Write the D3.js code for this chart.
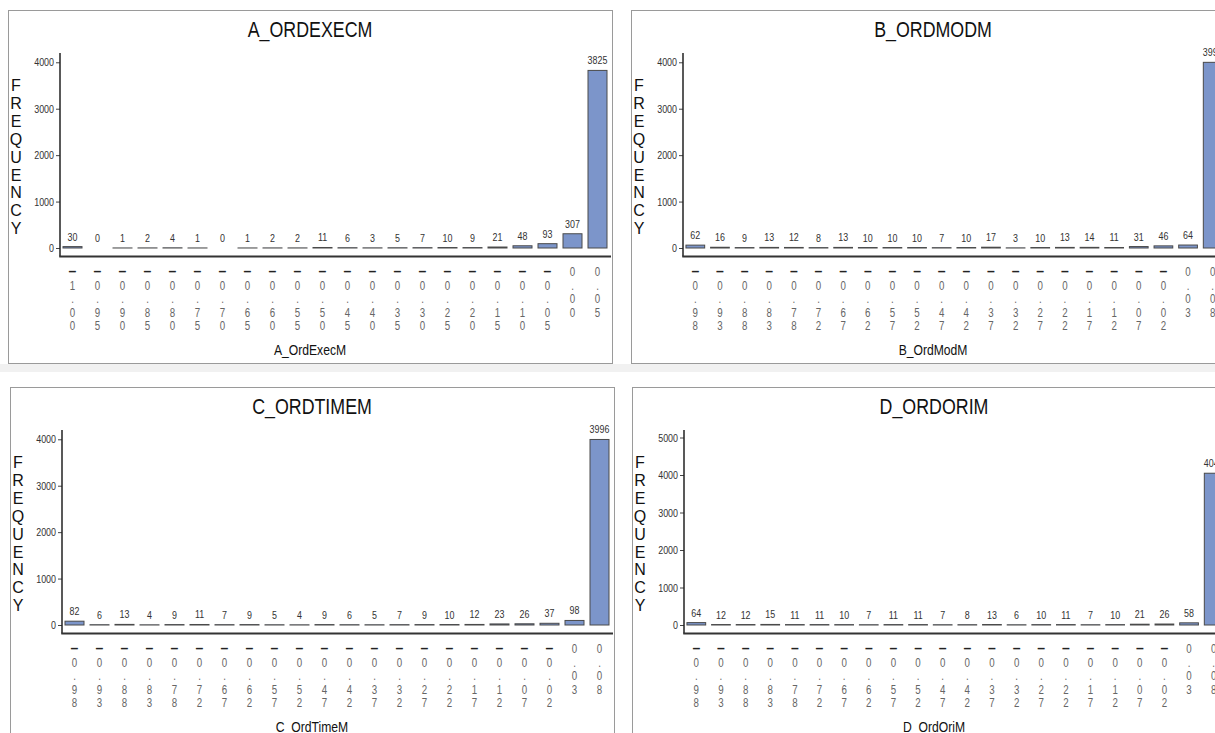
<!DOCTYPE html>
<html>
<head>
<meta charset="utf-8">
<script src="https://cdn.jsdelivr.net/npm/d3@7"></script>
<style>
  html, body { margin: 0; padding: 0; background: #fff; overflow: hidden; }
  svg { display: block; }
  text { font-family: "Liberation Sans", Arial, sans-serif; }
</style>
</head>
<body>
<svg id="chart" width="1215" height="733"></svg>
<script>
// Histogram categories (class midpoints) and counts per variable
const categoriesA = ["-1.00","-0.95","-0.90","-0.85","-0.80","-0.75","-0.70","-0.65","-0.60","-0.55","-0.50",
                     "-0.45","-0.40","-0.35","-0.30","-0.25","-0.20","-0.15","-0.10","-0.05","0.00","0.05"];
const categoriesBCD = ["-0.98","-0.93","-0.88","-0.83","-0.78","-0.72","-0.67","-0.62","-0.57","-0.52","-0.47",
                       "-0.42","-0.37","-0.32","-0.27","-0.22","-0.17","-0.12","-0.07","-0.02","0.03","0.08"];

const valuesA = [30, 0, 1, 2, 4, 1, 0, 1, 2, 2, 11, 6, 3, 5, 7, 10, 9, 21, 48, 93, 307, 3825];
const valuesB = [62, 16, 9, 13, 12, 8, 13, 10, 10, 10, 7, 10, 17, 3, 10, 13, 14, 11, 31, 46, 64, 3999];
const valuesC = [82, 6, 13, 4, 9, 11, 7, 9, 5, 4, 9, 6, 5, 7, 9, 10, 12, 23, 26, 37, 98, 3996];
const valuesD = [64, 12, 12, 15, 11, 11, 10, 7, 11, 11, 7, 8, 13, 6, 10, 11, 7, 10, 21, 26, 58, 4047];

const yTicks4000 = [0, 1000, 2000, 3000, 4000];
const yTicks5000 = [0, 1000, 2000, 3000, 4000, 5000];

const titles = ["A_ORDEXECM", "B_ORDMODM", "C_ORDTIMEM", "D_ORDORIM"];
const xTitles = ["A_OrdExecM", "B_OrdModM", "C_OrdTimeM", "D_OrdOriM"];
const yLabel = "FREQUENCY";

const panels = [
  { title: titles[0], xTitle: xTitles[0], cats: categoriesA,   vals: valuesA, ticks: yTicks4000, yMax: 4200, x: 8,   y: 10,  right: 602 },
  { title: titles[1], xTitle: xTitles[1], cats: categoriesBCD, vals: valuesB, ticks: yTicks4000, yMax: 4200, x: 631, y: 10,  right: 594 },
  { title: titles[2], xTitle: xTitles[2], cats: categoriesBCD, vals: valuesC, ticks: yTicks4000, yMax: 4200, x: 10,  y: 387, right: 602 },
  { title: titles[3], xTitle: xTitles[3], cats: categoriesBCD, vals: valuesD, ticks: yTicks5000, yMax: 5200, x: 632, y: 387, right: 594 }
];

const svg = d3.select("#chart");
const FILL = "#7c95ca", OUTLINE = "#4a4a4a";
const SX = 0.81;   // horizontal squeeze giving the condensed lettering
const squeeze = (x, y) => `translate(${x},${y}) scale(${SX},1)`;

// light strip under the top row of frames
svg.append("rect").attr("x", 0).attr("y", 364).attr("width", 1215).attr("height", 8).attr("fill", "#f1f1f1");

// panel geometry (relative to the frame's top-left corner)
const W = 604, H = 353, axisX = 52, zeroY = 238, topY = 43, baseY = 246.5;

panels.forEach(p => {
  const g = svg.append("g").attr("transform", `translate(${p.x},${p.y})`);

  g.append("rect").attr("x", 0.5).attr("y", 0.5).attr("width", W).attr("height", H)
    .attr("fill", "#fff").attr("stroke", "#9a9a9a").attr("stroke-width", 1);

  g.append("text").attr("transform", squeeze(W / 2, 27)).attr("text-anchor", "middle")
    .attr("font-size", 22).attr("fill", "#111").text(p.title);

  const x = d3.scaleBand().domain(p.cats).range([axisX, p.right]).paddingInner(0.24).paddingOuter(0.12);
  const y = d3.scaleLinear().domain([0, p.yMax]).range([zeroY, topY]);

  // y axis ticks and labels
  const yAxis = g.append("g").attr("transform", `translate(${axisX},0)`)
    .call(d3.axisLeft(y).tickValues(p.ticks).tickFormat(d3.format("d")).tickSize(4).tickSizeOuter(0));
  yAxis.select(".domain").remove();
  yAxis.selectAll(".tick line").attr("stroke", "#444");
  yAxis.selectAll(".tick text").attr("x", 0).attr("transform", squeeze(-6, 0))
    .attr("font-family", null).attr("font-size", 11).attr("fill", "#333");

  // axis lines
  g.append("line").attr("x1", axisX).attr("x2", axisX).attr("y1", topY).attr("y2", baseY)
    .attr("stroke", "#222").attr("stroke-width", 1.5);
  g.append("line").attr("x1", axisX - 0.75).attr("x2", W - 1).attr("y1", baseY).attr("y2", baseY)
    .attr("stroke", "#333").attr("stroke-width", 2);

  // bars
  g.selectAll("rect.bar").data(p.vals).join("rect").attr("class", "bar")
    .attr("x", (d, i) => x(p.cats[i]))
    .attr("width", x.bandwidth())
    .attr("y", d => y(d))
    .attr("height", d => y(0) - y(d))
    .attr("fill", FILL).attr("stroke", OUTLINE).attr("stroke-width", 1);

  // bar value labels
  g.selectAll("text.val").data(p.vals).join("text").attr("class", "val")
    .attr("transform", (d, i) => squeeze(x(p.cats[i]) + x.bandwidth() / 2, y(d) - 6))
    .attr("text-anchor", "middle").attr("font-size", 11).attr("fill", "#333")
    .text(d => d);

  // x axis: category labels stacked one character per line
  const xAxis = g.append("g").attr("transform", `translate(0,${baseY})`)
    .call(d3.axisBottom(x).tickSize(0).tickFormat(""));
  xAxis.select(".domain").remove();
  xAxis.selectAll(".tick").each(function (c) {
    d3.select(this).selectAll("text.ch").data(c.split("")).join("text").attr("class", "ch")
      .attr("transform", (ch, i) => ch === "-"
        ? `translate(0,${19.5 + i * 13.6})`
        : squeeze(0, 19.5 + i * 13.6))
      .attr("text-anchor", "middle")
      .attr("font-size", ch => ch === "-" ? 14 : 12)
      .attr("font-weight", ch => ch === "-" ? "bold" : "normal")
      .attr("fill", ch => ch === "-" ? "#222" : "#666")
      .text(ch => ch === "-" ? "\u2013" : ch);
  });

  g.append("text").attr("transform", squeeze(W / 2, 345)).attr("text-anchor", "middle")
    .attr("font-size", 15).attr("fill", "#111").text(p.xTitle);

  // vertical axis title, one letter per line
  g.selectAll("text.ylab").data(yLabel.split("")).join("text").attr("class", "ylab")
    .attr("x", 8).attr("y", (ch, i) => 81 + i * 17.9)
    .attr("text-anchor", "middle")
    .attr("font-size", 16).attr("fill", "#111").text(ch => ch);
});
</script>
</body>
</html>
